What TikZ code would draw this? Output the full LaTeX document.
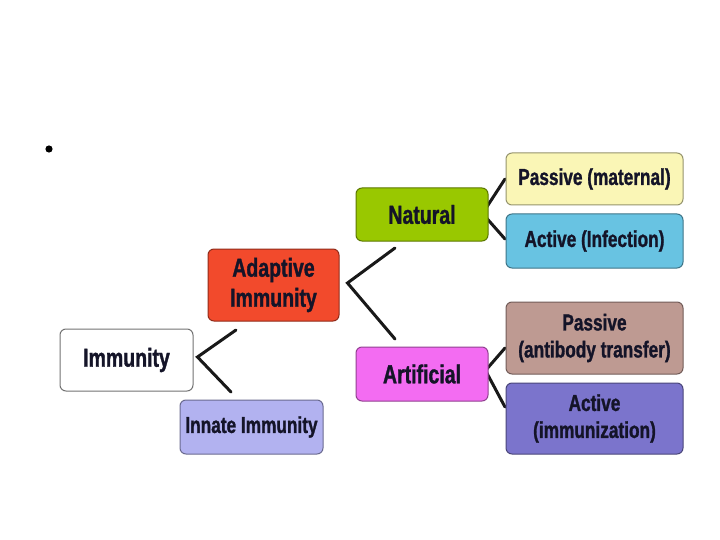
\documentclass[tikz,border=0pt]{standalone}
\usepackage{fontspec}
\usetikzlibrary{backgrounds}
\newfontfamily\boxfont{Liberation Sans}[FakeStretch=0.75, FakeBold=1.2]
\definecolor{txt}{HTML}{141428}
\definecolor{cAdapt}{HTML}{F24A2C}
\definecolor{cNat}{HTML}{99C800}
\definecolor{cPM}{HTML}{FAF6B6}
\definecolor{cAI}{HTML}{68C3E2}
\definecolor{cArt}{HTML}{F36CF2}
\definecolor{cPA}{HTML}{BE9A92}
\definecolor{cAct}{HTML}{7B74CC}
\definecolor{cInn}{HTML}{B2B2F0}
\tikzset{
  box/.style={rounded corners=6pt, draw=#1!60!black, line width=1pt, fill=#1,
    align=center, text=txt, inner sep=0pt},
  bigtext/.style={font=\boxfont\bfseries\fontsize{26}{30}\selectfont},
  smalltext/.style={font=\boxfont\bfseries\fontsize{23}{27}\selectfont},
  conn/.style={draw=black!90, line width=3pt, line cap=round, line join=miter}
}
\begin{document}
\begin{tikzpicture}[x=1pt,y=-1pt]
\begin{scope}[on background layer]
\fill[white] (0,0) rectangle (720,540);
\end{scope}
\useasboundingbox (0,0) rectangle (720,540);
\fill (49,149) circle (3.6);
\node[box=white, draw=black!55, bigtext, minimum width=133pt, minimum height=62pt] (imm) at (126.5,360) {Immunity};
\node[box=cInn, smalltext, minimum width=143pt, minimum height=54pt] (inn) at (251.5,427) {Innate Immunity};
\node[box=cAdapt, bigtext, minimum width=131pt, minimum height=72pt] (adp) at (273.5,285) {Adaptive\\Immunity};
\node[box=cNat, bigtext, minimum width=132pt, minimum height=53pt] (nat) at (422,214.5) {Natural};
\node[box=cArt, bigtext, minimum width=132pt, minimum height=54pt] (art) at (422,374) {Artificial};
\node[box=cPM, smalltext, minimum width=177pt, minimum height=52pt] (pm) at (594.5,179) {Passive (maternal)};
\node[box=cAI, smalltext, minimum width=177pt, minimum height=54pt] (ai) at (594.5,241) {Active (Infection)};
\node[box=cPA, smalltext, minimum width=177pt, minimum height=72pt] (pa) at (594.5,338) {Passive\\(antibody transfer)};
\node[box=cAct, smalltext, minimum width=177pt, minimum height=71pt] (act) at (594.5,418.5) {Active\\(immunization)};
% connectors
\coordinate (immV) at ([xshift=4pt,yshift=3pt]imm.east);
\coordinate (immT) at (236,330);
\coordinate (immB) at (231,392);
\draw[conn] (immT) -- (immV) -- (immB);
\coordinate (adpV) at ([xshift=8pt,yshift=2pt]adp.east);
\coordinate (adpT) at (395,248);
\coordinate (adpB) at (395,339);
\draw[conn] (adpT) -- (adpV) -- (adpB);
\begin{scope}[on background layer]
\coordinate (natV) at ([xshift=-6pt,yshift=1pt]nat.east);
\coordinate (natT) at (505,179);
\coordinate (natB) at (505,239);
\draw[conn] (natT) -- (natV) -- (natB);
\coordinate (artV) at ([xshift=-3pt,yshift=3.5pt]art.east);
\coordinate (artT) at (505,348);
\coordinate (artB) at (505,407);
\draw[conn] (artT) -- (artV) -- (artB);
\end{scope}
\end{tikzpicture}
\end{document}
